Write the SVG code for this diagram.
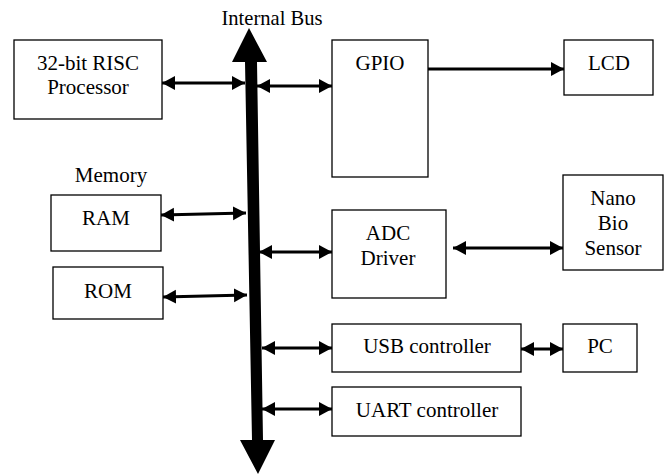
<svg xmlns="http://www.w3.org/2000/svg" width="671" height="474" viewBox="0 0 671 474">
<style>
.box{fill:#fff;stroke:#000;stroke-width:1.3}
.t{font-family:'Liberation Serif','Times New Roman',serif;font-size:21px;fill:#000;text-anchor:middle}
.ln{stroke:#000;stroke-width:3;fill:none}
</style>
<defs>
<marker id="ah" markerUnits="userSpaceOnUse" markerWidth="14" markerHeight="16" refX="13" refY="7" orient="auto-start-reverse" viewBox="0 0 14 14">
<path d="M0,0 L13,7 L0,14 Z" fill="#000"/>
</marker>
</defs>
<g id="bus">
<polygon points="249,28 267,62 257,62 263,440 275,440 258,474 240,440 252,440 245,62 232,62" fill="#000"/>
<text class="t" x="272" y="25" font-size="17" textLength="101" lengthAdjust="spacingAndGlyphs">Internal Bus</text>
</g>
<g id="processor">
<rect class="box" x="14" y="40" width="148" height="79"/>
<text class="t" x="88" y="70">32-bit RISC</text>
<text class="t" x="88" y="94">Processor</text>
</g>
<g id="memory-label"><text class="t" x="111" y="182">Memory</text></g>
<g id="ram">
<rect class="box" x="51" y="195" width="110" height="56"/>
<text class="t" x="106" y="225">RAM</text>
</g>
<g id="rom">
<rect class="box" x="53" y="267" width="110" height="52"/>
<text class="t" x="108" y="298">ROM</text>
</g>
<g id="gpio">
<rect class="box" x="332" y="40" width="96" height="137"/>
<text class="t" x="380" y="70">GPIO</text>
</g>
<g id="lcd">
<rect class="box" x="564" y="40" width="89" height="55"/>
<text class="t" x="609" y="70">LCD</text>
</g>
<g id="adc">
<rect class="box" x="332" y="210" width="114" height="88"/>
<text class="t" x="388" y="240">ADC</text>
<text class="t" x="388" y="265">Driver</text>
</g>
<g id="sensor">
<rect class="box" x="563" y="175" width="100" height="95"/>
<text class="t" x="613" y="205">Nano</text>
<text class="t" x="613" y="230">Bio</text>
<text class="t" x="613" y="255">Sensor</text>
</g>
<g id="usb">
<rect class="box" x="332" y="324" width="189" height="48"/>
<text class="t" x="427" y="353">USB controller</text>
</g>
<g id="pc">
<rect class="box" x="563" y="324" width="74" height="48"/>
<text class="t" x="600" y="353">PC</text>
</g>
<g id="uart">
<rect class="box" x="332" y="387" width="189" height="49"/>
<text class="t" x="427" y="417">UART controller</text>
</g>
<g id="connectors">
<line class="ln" x1="162" y1="83" x2="245" y2="83" marker-start="url(#ah)" marker-end="url(#ah)"/>
<line class="ln" x1="257" y1="86" x2="332" y2="86" marker-start="url(#ah)" marker-end="url(#ah)"/>
<line class="ln" x1="428" y1="69" x2="564" y2="69" marker-end="url(#ah)"/>
<line class="ln" x1="161" y1="215" x2="246" y2="213" marker-start="url(#ah)" marker-end="url(#ah)"/>
<line class="ln" x1="163" y1="297" x2="247" y2="295" marker-start="url(#ah)" marker-end="url(#ah)"/>
<line class="ln" x1="259" y1="252" x2="332" y2="252" marker-start="url(#ah)" marker-end="url(#ah)"/>
<line class="ln" x1="453" y1="248" x2="563" y2="248" marker-start="url(#ah)" marker-end="url(#ah)"/>
<line class="ln" x1="262" y1="348" x2="332" y2="348" marker-start="url(#ah)" marker-end="url(#ah)"/>
<line class="ln" x1="521" y1="349" x2="563" y2="349" marker-start="url(#ah)" marker-end="url(#ah)"/>
<line class="ln" x1="262" y1="409" x2="332" y2="409" marker-start="url(#ah)" marker-end="url(#ah)"/>
</g>
</svg>
